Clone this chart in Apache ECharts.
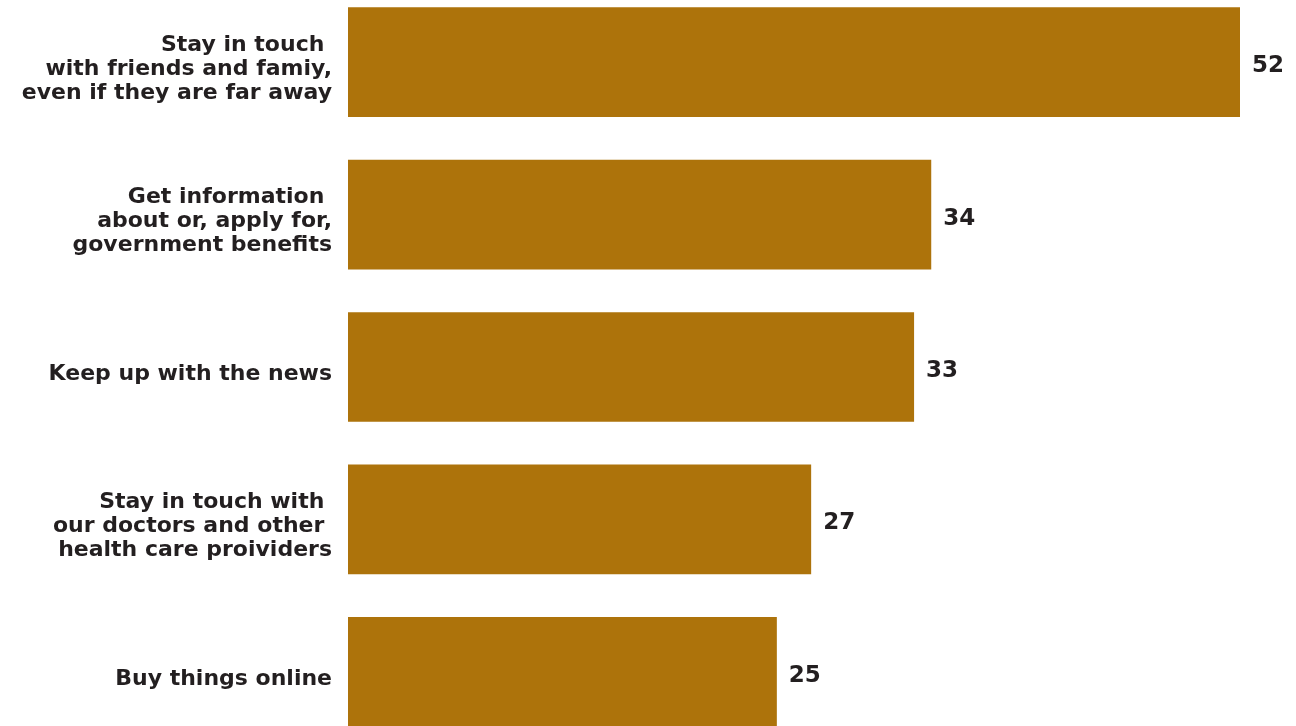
<!DOCTYPE html>
<html>
<head>
<meta charset="utf-8">
<script src="https://cdn.jsdelivr.net/npm/echarts@6/dist/echarts.min.js"></script>
<style>
html,body{margin:0;padding:0;background:#fff;}
#chart{width:1296px;height:726px;}
</style>
</head>
<body>
<div id="chart"></div>
<script>
const categories = [
  "Stay in touch \nwith friends and famiy,\neven if they are far away",
  "Get information \nabout or, apply for,\ngovernment benefits",
  "Keep up with the news",
  "Stay in touch with \nour doctors and other \nhealth care proividers",
  "Buy things online"
];
const values = [52, 34, 33, 27, 25];

const LINE_H = 24;
const SHIFT = 7;
const yData = categories.map(function (c) {
  const n = c.split('\n').length;
  return {
    value: c,
    textStyle: { verticalAlign: 'top', padding: [-n * LINE_H / 2 + SHIFT, 0, 0, 0] }
  };
});

const chart = echarts.init(document.getElementById('chart'));
chart.setOption({
  animation: false,
  grid: { left: 348, right: 56, top: -14, height: 762, outerBoundsMode: 'none', containLabel: false },
  xAxis: { type: 'value', min: 0, max: 52, show: false },
  yAxis: {
    type: 'category', inverse: true, data: yData,
    axisLine: { show: false }, axisTick: { show: false },
    axisLabel: {
      margin: 16, color: '#231f20', fontFamily: 'DejaVu Sans', fontWeight: 'bold',
      fontSize: 22, lineHeight: LINE_H, align: 'right'
    }
  },
  series: [{
    type: 'bar', data: values, barCategoryGap: '28%',
    itemStyle: { color: '#ad730b' },
    label: {
      show: true, position: 'right', distance: 12, color: '#231f20',
      fontFamily: 'DejaVu Sans', fontWeight: 'bold', fontSize: 23, offset: [0, 4]
    }
  }]
});
</script>
</body>
</html>
